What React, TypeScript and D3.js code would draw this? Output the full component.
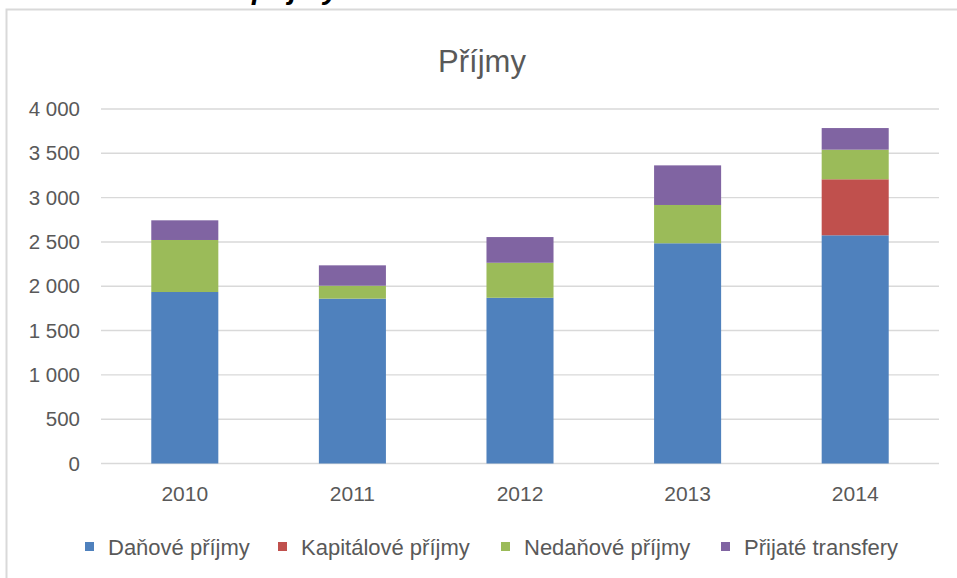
import { useEffect, useRef } from "react";
import * as d3 from "d3";

const years = ["2010", "2011", "2012", "2013", "2014"];
const seriesNames = ["Daňové příjmy", "Kapitálové příjmy", "Nedaňové příjmy", "Přijaté transfery"];
const danove = [1935, 1860, 1870, 2485, 2575];
const kapitalove = [0, 0, 0, 0, 632];
const nedanove = [587, 146, 395, 432, 334];
const transfery = [222, 230, 290, 447, 244];
const yTicks = [0, 500, 1000, 1500, 2000, 2500, 3000, 3500, 4000];

const colors = ["#4F81BD", "#C0504D", "#9BBB59", "#8064A2"];
const textColor = "#595959";
const gridColor = "#d9d9d9";
const font = "'Liberation Sans', Arial, sans-serif";

export default function App() {
  const svgRef = useRef<SVGSVGElement>(null);

  useEffect(() => {
    if (!svgRef.current) return;
    const svg = d3.select(svgRef.current);
    svg.selectAll("*").remove();

    const width = 957;
    const height = 578;
    svg.attr("width", width).attr("height", height);

    // chart frame
    svg
      .append("rect")
      .attr("x", 6.5)
      .attr("y", 9.5)
      .attr("width", 980)
      .attr("height", 620)
      .attr("fill", "#fff")
      .attr("stroke", gridColor)
      .attr("stroke-width", 2);

    // heading of the page above the chart, cut off by the screenshot edge
    svg
      .append("text")
      .attr("x", 252)
      .attr("y", -1)
      .attr("font-family", font)
      .attr("font-size", 29)
      .attr("font-weight", "bold")
      .attr("font-style", "italic")
      .attr("fill", "#000")
      .text("příjmy");

    svg
      .append("text")
      .attr("x", 482)
      .attr("y", 72)
      .attr("text-anchor", "middle")
      .attr("font-family", font)
      .attr("font-size", 31)
      .attr("fill", textColor)
      .text("Příjmy");

    const left = 101;
    const right = 939;
    const y0 = 463.5;
    const yTop = 109;

    const x = d3.scaleBand().domain(years).range([left, right]).paddingInner(0.6).paddingOuter(0.3);
    const y = d3.scaleLinear().domain([0, 4000]).range([y0, yTop]);

    const fmt = d3.formatLocale({ decimal: ",", thousands: "\u00a0", grouping: [3], currency: ["", ""] }).format(",");

    // grid
    svg
      .append("g")
      .selectAll("line")
      .data(yTicks)
      .join("line")
      .attr("x1", left)
      .attr("x2", right)
      .attr("y1", (d) => y(d))
      .attr("y2", (d) => y(d))
      .attr("stroke", gridColor)
      .attr("stroke-width", 1.4);

    const yAxis = svg
      .append("g")
      .attr("transform", `translate(${left},0)`)
      .call(d3.axisLeft(y).tickValues(yTicks).tickSize(0).tickPadding(21).tickFormat((d) => fmt(d as number)));
    yAxis.select("path.domain").remove();
    yAxis.selectAll("text").attr("fill", textColor).attr("font-size", 20.5).attr("font-family", font);

    const stackData = years.map((yr, i) => ({
      year: yr,
      s0: danove[i],
      s1: kapitalove[i],
      s2: nedanove[i],
      s3: transfery[i],
    }));
    const stack = d3.stack<(typeof stackData)[number]>().keys(["s0", "s1", "s2", "s3"]);
    const layers = stack(stackData);

    svg
      .append("g")
      .selectAll("g")
      .data(layers)
      .join("g")
      .attr("fill", (_, i) => colors[i])
      .selectAll("rect")
      .data((d) => d)
      .join("rect")
      .attr("x", (d) => x(d.data.year)!)
      .attr("width", x.bandwidth())
      .attr("y", (d) => y(d[1]))
      .attr("height", (d) => y(d[0]) - y(d[1]));

    const xAxis = svg
      .append("g")
      .attr("transform", `translate(0,${y0})`)
      .call(d3.axisBottom(x).tickSize(0).tickPadding(23));
    xAxis.select("path.domain").remove();
    xAxis.selectAll("text").attr("fill", textColor).attr("font-size", 21).attr("font-family", font);

    // legend
    const legendX = [85, 278, 501, 721];
    const legend = svg
      .append("g")
      .selectAll("g")
      .data(seriesNames)
      .join("g")
      .attr("transform", (_, i) => `translate(${legendX[i]},0)`);
    legend
      .append("rect")
      .attr("y", 542)
      .attr("width", 9)
      .attr("height", 9)
      .attr("fill", (_, i) => colors[i]);
    legend
      .append("text")
      .attr("x", 23)
      .attr("y", 555)
      .attr("font-family", font)
      .attr("font-size", 22)
      .attr("fill", textColor)
      .text((d) => d);
  }, []);

  return <svg ref={svgRef} style={{ position: "absolute", left: 0, top: 0, display: "block" }} />;
}
